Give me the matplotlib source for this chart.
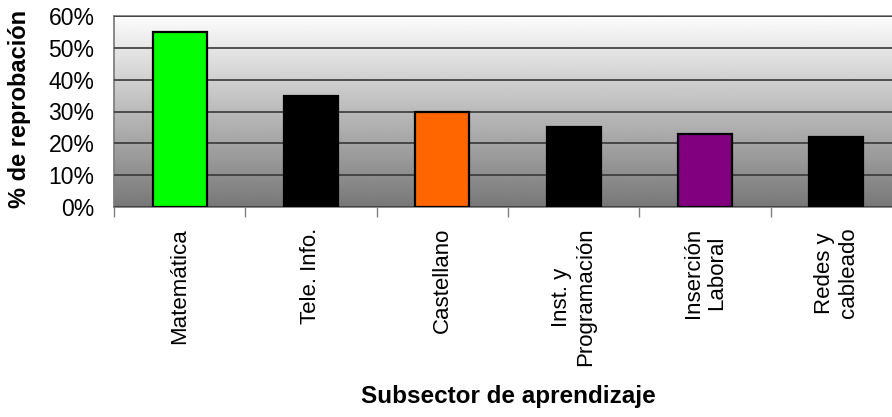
import numpy as np
import matplotlib.pyplot as plt
from matplotlib.ticker import PercentFormatter

categories = ['Matemática', 'Tele. Info.', 'Castellano', 'Inst. y\nProgramación',
              'Inserción\nLaboral', 'Redes y\ncableado']
values = [55, 35, 30, 25, 23, 22]
colors = ['#00FF00', '#000000', '#FF6600', '#000000', '#800080', '#000000']

plt.rcParams['font.family'] = ['Liberation Sans', 'DejaVu Sans']

fig = plt.figure(figsize=(8.92, 4.17), dpi=100)
ax = fig.add_axes([114 / 892, 1 - 207 / 417, (902 - 114) / 892, (207 - 16) / 417])

x = np.arange(len(categories))

# gradient background, white at top to grey at bottom
grad = np.linspace(0.99, 0.47, 256).reshape(-1, 1)
ax.imshow(grad, cmap='gray', vmin=0, vmax=1, aspect='auto',
          extent=[-0.5, len(categories) - 0.5, 0, 60], zorder=0)
ax.set_xlim(-0.5, len(categories) - 0.5)
ax.set_ylim(0, 60)

ax.set_yticks(np.arange(0, 61, 10))
ax.yaxis.set_major_formatter(PercentFormatter(decimals=0))
ax.grid(axis='y', color='#383838', linewidth=1.2, zorder=1)
ax.set_axisbelow(False)

ax.bar(x, values, width=0.41, color=colors, edgecolor='black', linewidth=1.6, zorder=3)

ax.set_xticks(x)
ax.set_xticklabels(categories, rotation=90, fontsize=16, va='top', ha='center',
                   multialignment='center', linespacing=1.15)
ax.set_xticks(np.arange(-0.5, len(categories) + 0.5, 1), minor=True)
ax.tick_params(axis='x', which='major', length=0, pad=15)
ax.tick_params(axis='x', which='minor', length=7, color='#808080', width=1)
ax.tick_params(axis='y', length=0, pad=14, labelsize=16.5)
ax.grid(axis='x', visible=False)

for side in ['top', 'left', 'bottom', 'right']:
    ax.spines[side].set_color('#808080')
    ax.spines[side].set_linewidth(1.3)

fig.text(20 / 892, 1 - 109 / 417, '% de reprobación', fontsize=17, fontweight='bold',
         rotation=90, ha='center', va='center')
fig.text(508 / 892, 1 - 397 / 417, 'Subsector de aprendizaje', fontsize=17.5,
         fontweight='bold', ha='center', va='center')

plt.savefig('out.png', dpi=100)
